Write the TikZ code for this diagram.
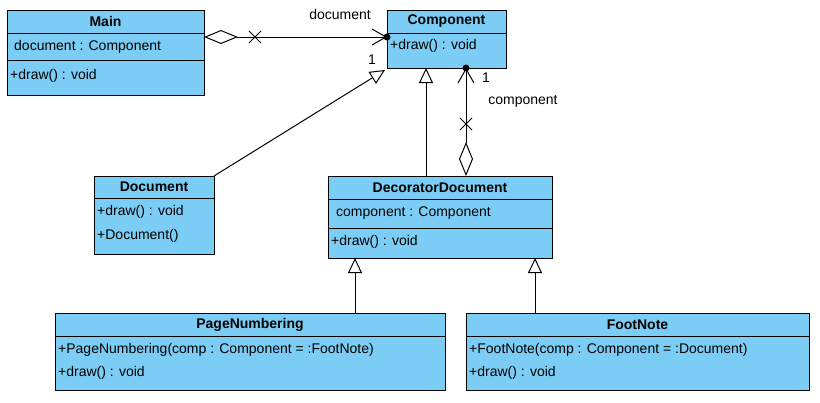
\documentclass[tikz,border=0pt]{standalone}
\usepackage{fontspec}
\setmainfont{Liberation Sans}
\usetikzlibrary{arrows.meta,calc}
\begin{document}
\begin{tikzpicture}[x=1pt,y=-1pt,
  cls/.style={draw,fill=cyan!45!blue!30,line width=1pt,minimum width=#1,inner sep=0pt,anchor=north west},
  t/.style={font=\fontsize{14}{16}\selectfont,inner sep=0pt},
  tb/.style={t,font=\fontsize{14}{16}\selectfont\bfseries},
  ln/.style={line width=1pt},
  gen/.style={ln,-{Triangle[open,length=15pt,width=14pt]}},
  dia/.style={ln,{Diamond[open,length=34pt,width=14pt]}-{Straight Barb[length=14pt,width=16pt]}},
  dot/.style={fill,circle,inner sep=0pt,minimum size=7pt}]
\useasboundingbox (0,0) rectangle (820,402);
\definecolor{cf}{RGB}{124,205,245}
\tikzset{box/.style={draw,fill=cf,line width=1pt}}
% Main
\draw[box] (7,10) rectangle (204,95); \draw[ln] (7,33)--(204,33) (7,60)--(204,60);
\node[tb] (mainT) at (105.5,21.5) {Main};
\node[t,anchor=west] at (14,46.5) {document : Component};
\node[t,anchor=west] at (10,76) {+draw() : void};
\coordinate (mainR) at (204,37);
% Component
\draw[box] (387,10) rectangle (506,68); \draw[ln] (387,33)--(506,33);
\node[tb] (compT) at (446.5,21.5) {Component};
\node[t,anchor=west] at (390,46) {+draw() : void};
\coordinate (compL) at (387,37);
\coordinate (compBL) at (385,70);
\coordinate (compB) at (426,68);
\coordinate (compB2) at (466,68);
% Document
\draw[box] (94,176) rectangle (214,254); \draw[ln] (94,198)--(214,198);
\node[tb] (docT) at (154,187) {Document};
\node[t,anchor=west] at (97,212) {+draw() : void};
\node[t,anchor=west] at (97,236) {+Document()};
\coordinate (docTR) at (214,176);
% DecoratorDocument
\draw[box] (328,176) rectangle (552,258); \draw[ln] (328,199)--(552,199) (328,228)--(552,228);
\node[tb] (decT) at (440,187.5) {DecoratorDocument};
\node[t,anchor=west] at (336,213) {component : Component};
\node[t,anchor=west] at (331,242) {+draw() : void};
\coordinate (decT1) at (426,176);
\coordinate (decT2) at (466,176);
\coordinate (decB1) at (355,258);
\coordinate (decB2) at (535,258);
% PageNumbering
\draw[box] (55,313) rectangle (445,390); \draw[ln] (55,336)--(445,336);
\node[tb] (pnT) at (250,324.5) {PageNumbering};
\node[t,anchor=west] at (58,350) {+PageNumbering(comp : Component = :FootNote)};
\node[t,anchor=west] at (58,373) {+draw() : void};
\coordinate (pnT1) at (355,313);
% FootNote
\draw[box] (466,313) rectangle (809,390); \draw[ln] (466,336)--(809,336);
\node[tb] (fnT) at (637.5,324.5) {FootNote};
\node[t,anchor=west] at (469,350) {+FootNote(comp : Component = :Document)};
\node[t,anchor=west] at (469,373) {+draw() : void};
\coordinate (fnT1) at (535,313);
% connectors
\draw[dia] (mainR) -- (compL);
\node[dot] at (compL) {};
\draw[ln] (249,31)--(261,43) (249,43)--(261,31);
\node[t] at (340,14) {document};
\node[t] at (372,60) {1};
\draw[gen] (docTR) -- (compBL);
\draw[gen] (decT1) -- (compB);
\draw[dia] (decT2) -- (compB2);
\node[dot] at (compB2) {};
\draw[ln] (460,118)--(472,130) (460,130)--(472,118);
\node[t] at (486,78) {1};
\node[t] at (523,101) {component};
\draw[gen] (pnT1) -- (decB1);
\draw[gen] (fnT1) -- (decB2);
\end{tikzpicture}
\end{document}
